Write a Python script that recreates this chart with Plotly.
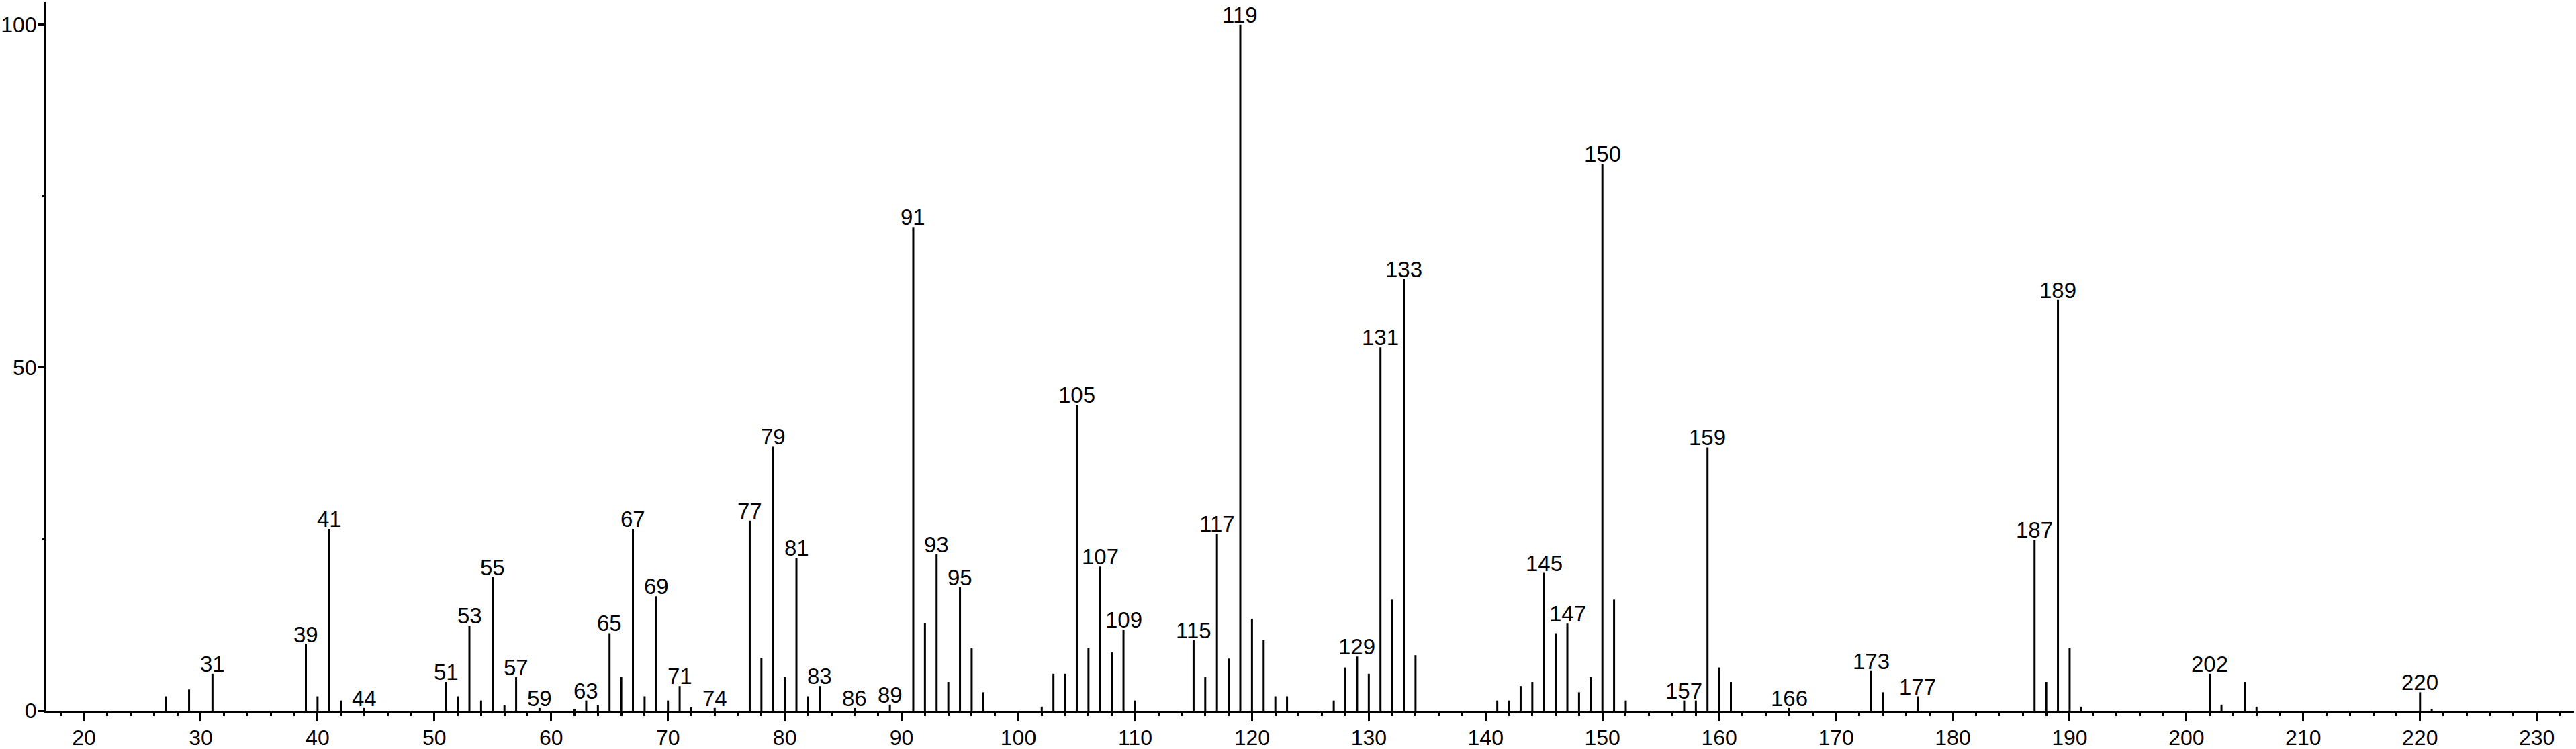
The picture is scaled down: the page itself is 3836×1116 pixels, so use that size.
import plotly.graph_objects as go

# m/z values and relative intensities (%)
mz = [27, 29, 31, 39, 40, 41, 42, 44, 51, 52, 53, 54, 55, 56, 57, 59, 62, 63, 64,
      65, 66, 67, 68, 69, 70, 71, 72, 74, 77, 78, 79, 80, 81, 82, 83, 86, 89,
      91, 92, 93, 94, 95, 96, 97, 102, 103, 104, 105, 106, 107, 108, 109, 110,
      115, 116, 117, 118, 119, 120, 121, 122, 123, 127, 128, 129, 130, 131, 132,
      133, 134, 141, 142, 143, 144, 145, 146, 147, 148, 149, 150, 151, 152,
      157, 158, 159, 160, 161, 166, 173, 174, 177, 187, 188, 189, 190, 191,
      202, 203, 205, 206, 220, 221]
intensity = [2.1, 3.1, 5.4, 9.7, 2.1, 26.5, 1.5, 0.4, 4.2, 2.1, 12.4, 1.5, 19.5, 0.8,
             4.9, 0.4, 0.3, 1.5, 0.8, 11.3, 4.9, 26.5, 2.1, 16.7, 1.5, 3.6, 0.5, 0.4,
             27.7, 7.7, 38.5, 4.9, 22.3, 2.1, 3.6, 0.4, 0.9, 70.5, 12.8, 22.8, 4.2,
             18.0, 9.1, 2.7, 0.6, 5.4, 5.4, 44.6, 9.1, 21.0, 8.5, 11.8, 1.5, 10.3,
             4.9, 25.8, 7.6, 100.0, 13.4, 10.3, 2.1, 2.1, 1.5, 6.3, 7.9, 5.4, 53.0,
             16.2, 62.9, 8.1, 1.5, 1.5, 3.6, 4.2, 20.1, 11.3, 12.7, 2.7, 4.9, 79.7,
             16.2, 1.5, 1.5, 1.5, 38.4, 6.3, 4.2, 0.4, 5.8, 2.7, 2.1, 24.9, 4.2,
             59.9, 9.1, 0.6, 5.4, 0.9, 4.2, 0.6, 2.7, 0.3]

# peaks that carry a text label
labeled = [31, 39, 41, 44, 51, 53, 55, 57, 59, 63, 65, 67, 69, 71, 74, 77, 79, 81,
           83, 86, 89, 91, 93, 95, 105, 107, 109, 115, 117, 119, 129, 131, 133,
           145, 147, 150, 157, 159, 166, 173, 177, 187, 189, 202, 220]

x_ticks = list(range(20, 231, 10))
y_ticks = [0, 50, 100]
y_minor = [25, 75]

FONT = "Liberation Sans, Arial, Helvetica, sans-serif"
Y_RANGE = [0, 103.3]

# stick segments
xs, ys = [], []
for m, v in zip(mz, intensity):
    xs += [m, m, None]
    ys += [0, v, None]

lookup = dict(zip(mz, intensity))

fig = go.Figure()
fig.add_trace(go.Scatter(x=xs, y=ys, mode="lines",
                         line=dict(color="black", width=3),
                         hoverinfo="skip", showlegend=False))
# carrier trace for the tick-only overlay axis
fig.add_trace(go.Scatter(x=[None], y=[None], yaxis="y2", mode="lines",
                         hoverinfo="skip", showlegend=False))

for m in labeled:
    fig.add_annotation(x=m, y=lookup[m], text=str(m), showarrow=False,
                       xanchor="center", yanchor="bottom", borderpad=0,
                       yshift=-5,
                       font=dict(family=FONT, size=33, color="black"))

fig.update_layout(
    width=3836, height=1116,
    margin=dict(l=69, r=3, t=3, b=57),
    paper_bgcolor="white", plot_bgcolor="white",
    font=dict(family=FONT, size=32, color="black"),
    xaxis=dict(range=[16.78, 233.18], tickvals=x_ticks, ticks="outside",
               ticklen=13, tickwidth=3, tickcolor="black",
               showline=True, linecolor="black", linewidth=3,
               showgrid=False, zeroline=False, ticklabelstandoff=-3,
               minor=dict(dtick=2, tick0=0, ticks="outside", ticklen=5,
                          tickwidth=3, tickcolor="black", showgrid=False),
               tickfont=dict(family=FONT, size=32, color="black"),
               automargin=False),
    # labels of the intensity axis (short ticks so the labels sit close)
    yaxis=dict(range=Y_RANGE, tickvals=y_ticks, ticks="outside",
               ticklen=5, tickwidth=3, tickcolor="black",
               showline=True, linecolor="black", linewidth=3,
               showgrid=False, zeroline=False,
               tickfont=dict(family=FONT, size=32, color="black"),
               automargin=False),
    # tick marks of the intensity axis
    yaxis2=dict(range=Y_RANGE, overlaying="y", side="left", anchor="x",
                tickvals=y_ticks, ticks="outside", ticklen=12, tickwidth=3,
                tickcolor="black", showticklabels=False, showline=False,
                showgrid=False, zeroline=False,
                minor=dict(tickvals=y_minor, ticks="outside", ticklen=5,
                           tickwidth=3, tickcolor="black", showgrid=False),
                automargin=False),
)

fig.write_html("out.html", config={"displayModeBar": False})

# remove the default page margin so the figure sits at the window's corner
with open("out.html", "r", encoding="utf-8") as f:
    html = f.read()
html = html.replace("<head>", "<head><style>html,body{margin:0;padding:0;overflow:hidden;}</style>", 1)
with open("out.html", "w", encoding="utf-8") as f:
    f.write(html)
